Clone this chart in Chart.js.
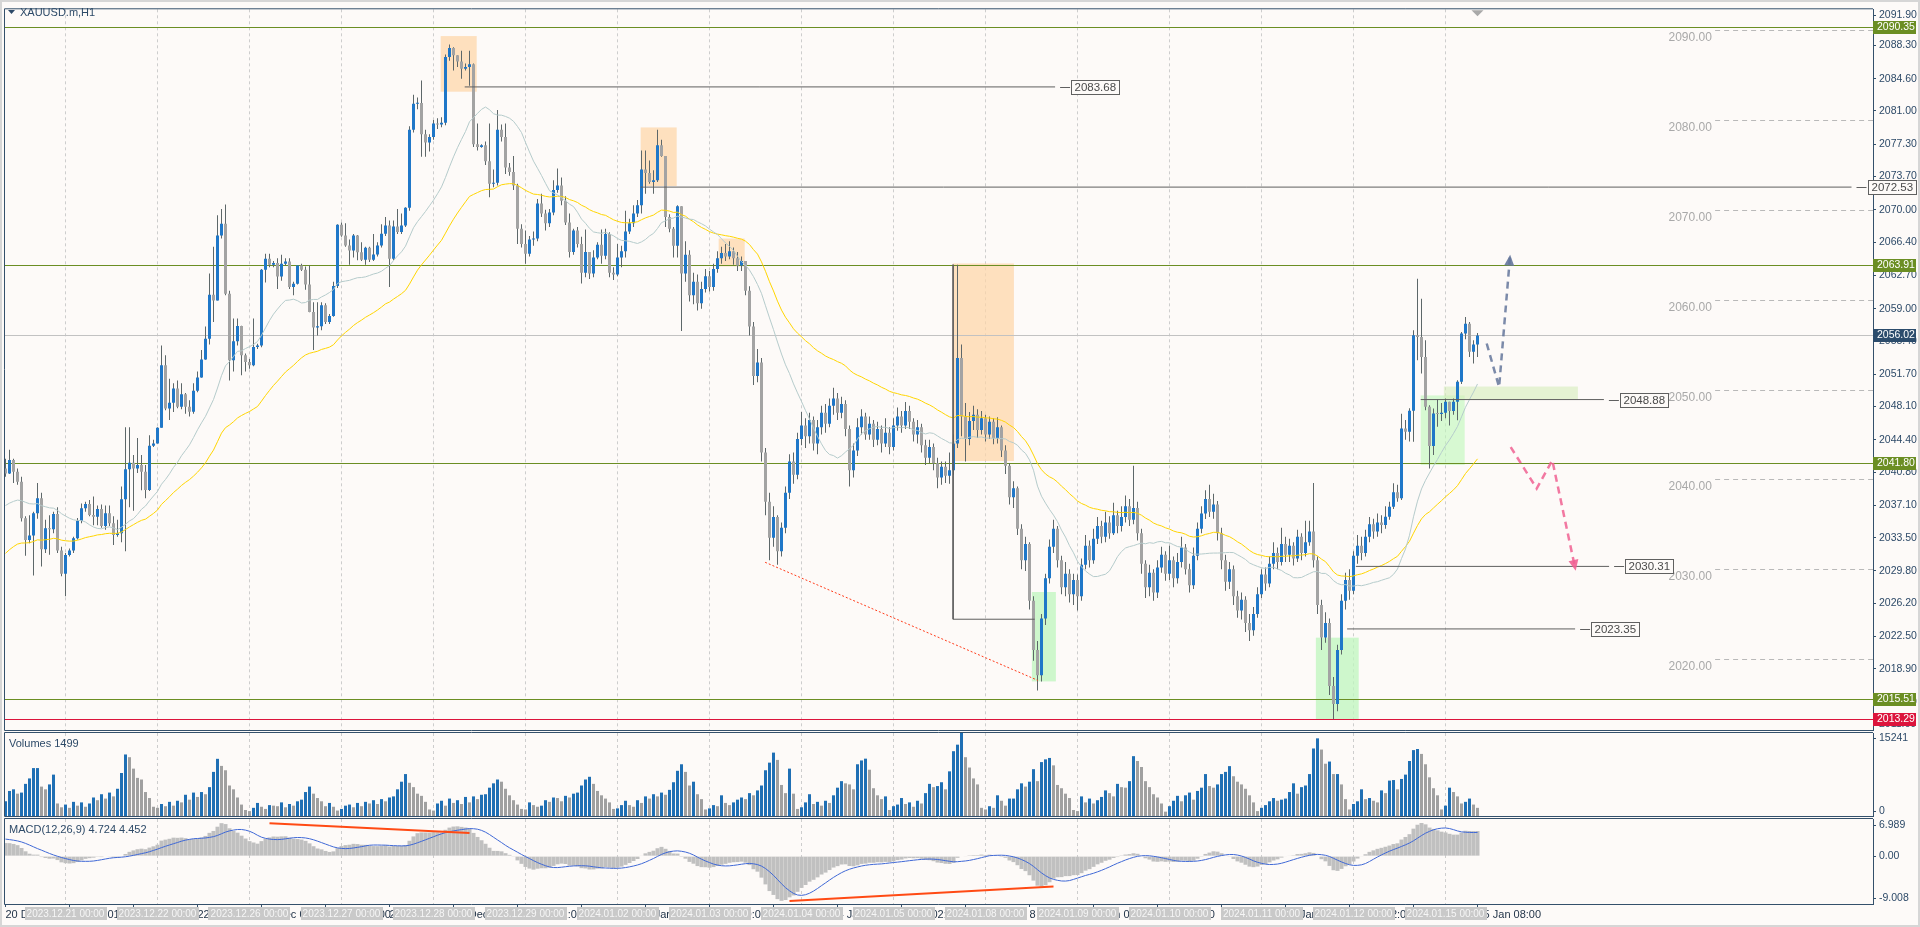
<!DOCTYPE html>
<html>
<head>
<meta charset="utf-8">
<title>XAUUSD.m,H1</title>
<script src="https://cdn.jsdelivr.net/npm/chart.js@4.4.1/dist/chart.umd.min.js"></script>
<style>
  html, body { margin: 0; padding: 0; background: #fdfaf8; overflow: hidden; }
  #wrap { position: relative; width: 1920px; height: 927px; }
  #wrap canvas { position: absolute; left: 0; top: 0; }
  #edge { position: absolute; left: 0; top: 0; width: 1916px; height: 923px; border: 2px solid #d6d6d6; pointer-events: none; }
</style>
</head>
<body>
<div id="wrap">
  <canvas id="priceChart" width="1920" height="927"></canvas>
  <canvas id="volChart" width="1920" height="927"></canvas>
  <canvas id="macdChart" width="1920" height="927"></canvas>
  <div id="edge"></div>
</div>
<script>
// ---- data ----
const firstOpen = 2041.22;

// hourly closes, one row per session (Dec 20 partial ... Jan 15 partial)
const closes = [
  2040.66, 2042.15, 2040.85, 2039.74, 2035.66, 2033.26, 2033.74, 2036.22, 2037.89, 2032.22, 2034.55, 2034.44, 2036.15, 2032.07, 2029.48,
  2031.59, 2032.07, 2033.44, 2035.37, 2036.78, 2037.26, 2036.03, 2035.85, 2036.70, 2034.81, 2036.22, 2035.11, 2033.81, 2034.00, 2037.78, 2041.11, 2041.85, 2041.22, 2041.59, 2040.85, 2038.81, 2043.74, 2044.00,
  2045.74, 2052.70, 2047.89, 2048.52, 2050.11, 2048.07, 2049.48, 2048.07, 2047.52, 2049.85, 2051.33, 2053.33, 2055.66, 2060.55, 2059.92, 2067.15, 2068.44, 2060.66, 2053.26, 2055.37, 2057.07, 2053.81, 2053.07,
  2052.70, 2054.74, 2054.89, 2063.33, 2064.55, 2063.89, 2064.07, 2062.59, 2064.00, 2064.26, 2061.41, 2061.78, 2063.81, 2063.33, 2061.70, 2058.63, 2056.89, 2057.03, 2059.37, 2057.52, 2058.18, 2061.52, 2068.33,
  2067.15, 2066.03, 2065.48, 2067.15, 2065.29, 2064.44, 2065.78, 2064.44, 2065.03, 2066.03, 2067.33, 2068.26, 2064.55, 2068.15, 2067.52, 2068.26, 2070.22, 2078.90, 2081.80, 2081.90, 2078.40, 2077.50, 2078.10,
  2079.60, 2079.50, 2079.70, 2087.00, 2088.00, 2087.20, 2086.50, 2085.70, 2085.90, 2086.20, 2077.30, 2077.00, 2077.20, 2075.40, 2072.90, 2073.00, 2078.90, 2078.10, 2074.70, 2074.20, 2072.70, 2067.90, 2066.20,
  2065.10, 2066.70, 2066.80, 2070.70, 2069.60, 2068.50, 2069.70, 2072.20, 2072.70, 2071.00, 2068.60, 2065.30, 2067.70, 2066.20, 2063.00, 2065.30, 2062.90, 2064.70, 2066.10, 2064.90, 2067.30, 2063.00, 2062.80,
  2064.70, 2065.40, 2067.60, 2068.50, 2069.60, 2070.50, 2074.50, 2074.10, 2073.10, 2073.30, 2077.20, 2076.00, 2069.20, 2067.90, 2066.00, 2070.40, 2062.90, 2065.00, 2060.50, 2062.00, 2059.60, 2061.20, 2062.60,
  2061.40, 2063.40, 2064.60, 2065.20, 2064.80, 2065.40, 2064.60, 2063.80, 2064.30, 2061.00, 2057.00, 2051.50, 2053.00, 2043.00, 2037.50, 2033.50, 2035.80, 2032.00, 2034.60, 2038.50, 2042.00, 2040.50, 2044.50,
  2046.00, 2044.80, 2046.60, 2044.00, 2045.80, 2047.40, 2046.20, 2048.20, 2049.00, 2047.40, 2048.40, 2045.60, 2041.00, 2043.20, 2045.80, 2047.00, 2045.00, 2046.20, 2044.40, 2045.60, 2044.00, 2045.20, 2043.60,
  2046.00, 2047.00, 2046.00, 2047.60, 2046.40, 2045.00, 2045.80, 2043.80, 2042.40, 2043.60, 2041.80, 2040.20, 2041.40, 2040.40, 2041.00, 2044.00, 2053.50, 2047.00, 2044.50, 2046.50, 2047.20, 2045.50, 2046.80,
  2045.00, 2046.40, 2044.60, 2045.80, 2043.20, 2041.50, 2038.00, 2039.00, 2034.50, 2031.00, 2032.80, 2026.50, 2021.00, 2018.20, 2024.50, 2029.00, 2032.50, 2034.50, 2031.00, 2028.00, 2029.50, 2027.20, 2028.80,
  2027.00, 2030.50, 2032.60, 2031.00, 2033.40, 2034.80, 2033.60, 2035.20, 2034.00, 2036.00, 2034.80, 2035.80, 2037.00, 2035.50, 2036.80, 2034.00, 2030.60, 2028.00, 2029.60, 2027.40, 2030.20, 2031.60, 2029.50,
  2031.00, 2029.00, 2030.80, 2032.40, 2030.00, 2028.20, 2031.50, 2034.50, 2036.20, 2037.80, 2036.40, 2037.20, 2034.00, 2031.00, 2028.60, 2030.00, 2027.00, 2025.40, 2026.60, 2024.00, 2023.20, 2025.00, 2027.20,
  2029.40, 2028.40, 2030.60, 2031.80, 2030.80, 2032.80, 2031.60, 2032.60, 2031.20, 2033.60, 2031.80, 2033.00, 2034.20, 2031.00, 2026.00, 2022.40, 2024.00, 2017.00, 2015.00, 2021.00, 2026.50, 2028.80, 2027.60,
  2031.50, 2032.60, 2031.80, 2033.60, 2035.00, 2034.20, 2035.20, 2034.93, 2035.85, 2036.96, 2038.56, 2037.89, 2045.67, 2045.30, 2047.63, 2056.04, 2055.85, 2053.63, 2048.08, 2043.70, 2047.33, 2047.26, 2047.40,
  2048.63, 2047.60, 2048.63, 2050.85, 2056.22, 2057.33, 2054.19, 2055.00, 2056.02
];

const highs = [
  2042.3, 2043.3, 2042.3, 2041.2, 2040.3, 2035.9, 2036.0, 2036.4, 2039.6, 2038.5, 2035.5, 2036.0, 2036.4, 2036.9, 2032.5,
  2031.8, 2032.3, 2033.6, 2035.7, 2037.3, 2037.5, 2037.7, 2038.1, 2037.1, 2037.2, 2037.1, 2037.1, 2035.9, 2035.5, 2039.2, 2045.8, 2045.8, 2042.7, 2044.6, 2042.7, 2041.6, 2044.9, 2044.4,
  2045.8, 2054.9, 2053.8, 2051.2, 2050.7, 2051.0, 2050.7, 2049.6, 2048.8, 2050.7, 2052.0, 2054.4, 2057.0, 2062.9, 2065.9, 2069.4, 2070.1, 2070.6, 2061.0, 2057.9, 2057.9, 2057.1, 2054.0,
  2053.4, 2057.9, 2055.1, 2063.4, 2065.1, 2065.1, 2064.3, 2064.6, 2065.0, 2064.6, 2064.6, 2062.0, 2063.8, 2064.0, 2063.7, 2063.8, 2059.7, 2059.7, 2059.7, 2059.6, 2058.4, 2062.0, 2068.4,
  2068.6, 2068.5, 2066.7, 2067.3, 2067.2, 2066.4, 2065.9, 2065.9, 2067.3, 2066.4, 2068.4, 2069.2, 2068.8, 2068.8, 2070.1, 2069.6, 2070.3, 2079.3, 2082.8, 2082.5, 2084.4, 2078.9, 2078.4,
  2080.0, 2080.2, 2080.3, 2087.3, 2088.4, 2088.1, 2087.2, 2087.7, 2086.3, 2087.7, 2086.3, 2079.6, 2077.3, 2077.6, 2079.6, 2074.5, 2081.1, 2079.5, 2079.6, 2075.2, 2076.0, 2072.9, 2068.4,
  2067.7, 2067.1, 2067.6, 2071.2, 2071.8, 2070.0, 2070.1, 2073.3, 2074.6, 2073.6, 2071.5, 2069.6, 2067.9, 2068.1, 2067.0, 2067.8, 2065.1, 2065.5, 2066.4, 2067.8, 2067.9, 2067.5, 2063.6,
  2066.2, 2066.0, 2069.9, 2069.0, 2070.5, 2071.1, 2076.6, 2076.6, 2075.5, 2074.4, 2078.9, 2077.8, 2076.0, 2069.5, 2068.1, 2070.5, 2070.4, 2066.5, 2065.5, 2063.0, 2062.8, 2062.0, 2063.4,
  2063.2, 2064.0, 2065.4, 2065.9, 2066.2, 2066.5, 2065.8, 2065.3, 2064.8, 2064.3, 2061.5, 2057.5, 2054.5, 2053.5, 2043.5, 2038.5, 2037.0, 2036.0, 2035.2, 2039.2, 2042.8, 2043.0, 2045.2,
  2047.5, 2046.8, 2047.4, 2047.0, 2046.6, 2048.2, 2048.4, 2049.0, 2050.2, 2049.6, 2049.2, 2048.8, 2046.0, 2044.0, 2046.8, 2047.8, 2047.4, 2047.0, 2046.6, 2046.4, 2046.0, 2046.8, 2045.8,
  2046.8, 2048.0, 2047.6, 2048.6, 2048.2, 2046.8, 2046.6, 2046.2, 2044.4, 2044.4, 2044.0, 2042.4, 2042.0, 2042.0, 2043.0, 2045.0, 2063.9, 2055.0, 2048.5, 2047.5, 2048.2, 2047.8, 2047.6,
  2047.2, 2047.0, 2046.8, 2046.9, 2046.0, 2043.8, 2041.8, 2039.8, 2039.2, 2035.0, 2033.6, 2033.0, 2027.0, 2022.0, 2025.0, 2029.5, 2033.3, 2035.5, 2034.8, 2031.5, 2030.8, 2030.0, 2029.5,
  2029.4, 2031.2, 2033.8, 2033.2, 2034.5, 2035.8, 2035.4, 2036.4, 2035.9, 2037.4, 2036.5, 2037.0, 2038.2, 2037.8, 2041.5, 2037.5, 2034.5, 2031.0, 2030.5, 2030.0, 2031.0, 2032.5, 2032.0,
  2032.6, 2031.4, 2031.8, 2033.6, 2032.8, 2030.6, 2032.4, 2035.2, 2037.0, 2038.8, 2039.4, 2038.4, 2037.6, 2034.6, 2031.6, 2030.8, 2030.4, 2027.6, 2027.4, 2027.0, 2025.0, 2025.8, 2028.0,
  2030.0, 2030.2, 2031.4, 2033.0, 2032.4, 2034.6, 2033.6, 2033.4, 2033.0, 2034.4, 2034.0, 2035.4, 2035.4, 2039.6, 2031.4, 2026.6, 2025.2, 2024.5, 2018.0, 2021.6, 2027.2, 2029.6, 2030.0,
  2032.0, 2033.8, 2033.6, 2034.4, 2035.8, 2035.6, 2036.2, 2036.0, 2037.0, 2037.5, 2039.56, 2039.4, 2047.3, 2046.6, 2047.9, 2056.59, 2062.33, 2060.11, 2055.48, 2048.26, 2047.89, 2048.89, 2048.5,
  2049.0, 2048.26, 2049.0, 2051.04, 2056.4, 2058.07, 2057.52, 2055.48, 2056.3
];

const lows = [
  2040.3, 2040.6, 2039.6, 2039.4, 2035.3, 2031.5, 2032.9, 2029.3, 2035.6, 2030.3, 2031.8, 2031.6, 2034.0, 2031.8, 2029.2,
  2027.0, 2031.4, 2031.8, 2033.3, 2035.1, 2036.4, 2035.9, 2034.9, 2034.9, 2034.6, 2034.4, 2034.8, 2032.7, 2033.6, 2033.0, 2032.0, 2036.9, 2036.5, 2040.7, 2038.8, 2037.9, 2038.7, 2043.6,
  2044.0, 2046.4, 2047.7, 2046.6, 2047.5, 2047.9, 2047.8, 2047.3, 2047.0, 2047.3, 2049.7, 2051.3, 2053.3, 2055.0, 2057.5, 2059.9, 2066.8, 2060.5, 2051.0, 2052.0, 2054.9, 2051.6, 2052.0,
  2052.3, 2052.6, 2054.5, 2054.7, 2061.9, 2063.6, 2063.6, 2061.2, 2062.1, 2063.8, 2061.2, 2060.5, 2061.7, 2063.2, 2061.1, 2058.6, 2054.4, 2056.0, 2056.6, 2057.3, 2057.3, 2058.1, 2061.3,
  2067.0, 2065.9, 2063.9, 2064.7, 2064.4, 2064.3, 2063.9, 2064.2, 2064.3, 2064.8, 2065.8, 2067.1, 2061.4, 2064.4, 2067.3, 2067.3, 2068.1, 2069.9, 2078.6, 2081.2, 2075.9, 2075.9, 2076.5,
  2077.8, 2079.0, 2079.2, 2079.4, 2086.6, 2085.5, 2085.9, 2084.6, 2085.5, 2083.8, 2077.0, 2076.6, 2076.9, 2075.0, 2071.4, 2072.5, 2072.7, 2077.6, 2074.0, 2073.8, 2072.2, 2066.2, 2065.8,
  2064.0, 2064.8, 2066.0, 2066.5, 2069.2, 2067.7, 2068.1, 2069.4, 2071.9, 2070.5, 2068.3, 2064.7, 2065.0, 2065.8, 2061.8, 2062.5, 2062.3, 2062.5, 2064.5, 2064.0, 2064.5, 2062.5, 2062.2,
  2062.6, 2063.6, 2064.7, 2067.3, 2068.1, 2069.2, 2069.6, 2071.8, 2072.9, 2071.8, 2073.1, 2075.9, 2068.1, 2067.5, 2064.7, 2064.7, 2056.5, 2062.0, 2059.8, 2059.5, 2058.8, 2059.0, 2060.8,
  2060.9, 2061.0, 2063.0, 2064.0, 2064.3, 2064.5, 2063.9, 2063.2, 2063.2, 2060.5, 2056.0, 2050.5, 2050.8, 2042.0, 2036.0, 2031.0, 2032.5, 2030.5, 2031.4, 2034.0, 2037.8, 2039.5, 2040.0,
  2043.8, 2043.5, 2044.0, 2043.2, 2042.8, 2045.0, 2045.2, 2045.8, 2047.2, 2046.6, 2046.8, 2044.8, 2039.2, 2040.2, 2042.6, 2045.0, 2044.4, 2044.4, 2043.6, 2043.8, 2043.0, 2043.6, 2042.8,
  2043.2, 2045.4, 2045.2, 2045.6, 2045.6, 2044.2, 2044.0, 2043.0, 2041.6, 2041.8, 2041.0, 2039.0, 2039.4, 2039.6, 2039.5, 2040.5, 2043.5, 2044.8, 2042.0, 2043.8, 2045.5, 2044.6, 2045.0,
  2044.2, 2044.5, 2043.9, 2044.0, 2042.5, 2040.6, 2037.2, 2036.8, 2033.8, 2030.0, 2029.8, 2025.5, 2019.8, 2016.5, 2017.5, 2023.8, 2028.4, 2031.8, 2030.2, 2027.2, 2027.0, 2026.3, 2026.0,
  2025.4, 2026.5, 2030.0, 2030.2, 2030.6, 2032.8, 2032.9, 2033.0, 2033.4, 2033.8, 2034.0, 2034.2, 2035.2, 2034.8, 2035.0, 2033.2, 2029.5, 2026.8, 2027.0, 2026.5, 2026.8, 2029.6, 2028.7,
  2028.8, 2028.0, 2028.4, 2030.2, 2029.4, 2027.4, 2027.8, 2031.0, 2034.0, 2035.6, 2035.8, 2035.6, 2033.2, 2030.0, 2027.6, 2027.8, 2026.0, 2024.6, 2024.4, 2023.0, 2022.0, 2022.6, 2024.6,
  2026.8, 2027.6, 2028.0, 2030.0, 2030.0, 2030.4, 2030.8, 2030.8, 2030.4, 2030.8, 2031.0, 2031.4, 2032.6, 2030.2, 2025.0, 2021.0, 2021.8, 2016.0, 2013.3, 2014.2, 2020.5, 2025.5, 2026.6,
  2027.2, 2030.6, 2031.0, 2031.4, 2033.0, 2033.4, 2033.6, 2034.0, 2034.5, 2035.5, 2036.7, 2037.5, 2037.7, 2044.4, 2044.2, 2044.19, 2053.26, 2051.78, 2047.7, 2041.22, 2042.7, 2045.85, 2046.5,
  2046.8, 2046.0, 2047.2, 2046.59, 2050.6, 2055.6, 2053.63, 2052.9, 2053.63
];

const volumes = [
  2700, 4600, 4900, 4100, 4300, 5900, 6900, 8800, 8800, 5400, 4900, 5800, 7600, 2300, 1600,
  2100, 1500, 2600, 1900, 2500, 1700, 2300, 3400, 2900, 4000, 3200, 4300, 3600, 5000, 7900, 11300, 10800, 8700, 7000, 6700, 4400, 3300, 1700,
  1500, 2200, 1800, 2600, 1900, 2800, 2500, 3900, 3000, 4300, 3500, 4400, 4000, 5300, 8100, 10500, 9200, 8400, 5600, 4900, 3400, 2100, 1100,
  900, 1500, 2400, 1700, 1300, 2000, 1900, 1800, 2500, 1600, 2200, 1900, 2700, 3000, 4400, 5400, 4100, 3300, 2700, 1800, 2400, 1700, 1000,
  1300, 1900, 2100, 1600, 2400, 1800, 2600, 2300, 2900, 2200, 3100, 2700, 3400, 3600, 4900, 6300, 7700, 6100, 5300, 4100, 3700, 2600, 1200,
  1000, 2300, 2800, 1900, 3200, 2400, 2900, 2200, 3500, 2500, 3600, 3100, 3900, 4000, 5200, 6000, 6700, 6300, 5000, 3800, 2900, 2100, 1300,
  1200, 2500, 2000, 1700, 1900, 2900, 2600, 3400, 3300, 2700, 3700, 3400, 4100, 4300, 5600, 6700, 7200, 5900, 4600, 3800, 3200, 2500, 1300,
  1400, 2000, 2800, 2000, 1700, 2900, 2400, 3600, 3200, 4000, 3600, 4300, 3900, 4800, 6200, 8300, 9500, 8100, 5600, 6300, 4000, 3100, 1200,
  1400, 2000, 1800, 3800, 2400, 2000, 2500, 3000, 3400, 3100, 4200, 3800, 4700, 5600, 8400, 9800, 11640, 10300, 5700, 4200, 8700, 4100, 1300,
  1600, 2500, 4000, 2200, 2600, 1900, 2800, 2400, 3800, 5200, 6400, 6000, 5800, 4900, 9500, 10200, 10530, 8500, 5100, 3800, 3100, 3600, 1100,
  1800, 2100, 3300, 2200, 2500, 1700, 2800, 2300, 4200, 5900, 5300, 5500, 6200, 4900, 8200, 11900, 13100, 15241, 10800, 8900, 6900, 5800, 1500,
  1200, 1800, 1500, 3800, 2800, 1900, 3200, 3200, 4900, 6000, 5400, 6300, 8600, 6400, 9900, 10400, 10660, 9300, 5700, 5100, 4100, 3300, 1100,
  900, 3600, 2500, 3200, 2300, 2900, 3500, 4700, 4200, 3600, 5900, 5300, 5200, 6400, 10990, 10100, 9000, 6400, 5300, 4000, 3400, 2300, 800,
  1800, 2800, 3700, 2700, 3800, 4300, 3000, 4600, 5200, 7700, 5500, 5200, 5800, 7700, 8100, 9160, 7300, 6300, 5800, 5000, 3800, 2500, 900,
  1500, 2000, 2700, 3300, 2800, 3000, 3200, 4400, 6000, 4100, 5300, 5600, 7700, 12400, 14260, 12200, 9600, 10000, 7700, 7700, 5800, 3100, 1200,
  2200, 2700, 4900, 3100, 3300, 2800, 2500, 4700, 4200, 6500, 6600, 4900, 6800, 7600, 10100, 12100, 12300, 11400, 9500, 7100, 5100, 3800, 1200,
  1900, 5200, 4400, 3600, 2300, 2600, 3200, 2100, 1499
];

// first bar (00:00) of every session, and its label on the time axis
const sessionStarts = [15, 38, 61, 84, 107, 130, 153, 176, 199, 222, 245, 268, 291, 314, 337, 360];
const sessionLabels = [
  '2023.12.21 00:00', '2023.12.22 00:00', '2023.12.26 00:00', '2023.12.27 00:00', '2023.12.28 00:00', '2023.12.29 00:00',
  '2024.01.02 00:00', '2024.01.03 00:00', '2024.01.04 00:00', '2024.01.05 00:00', '2024.01.08 00:00', '2024.01.09 00:00',
  '2024.01.10 00:00', '2024.01.11 00:00', '2024.01.12 00:00', '2024.01.15 00:00'
];
const timeTickBars = [0, 16, 32, 48, 64, 80, 96, 112, 128, 144, 160, 176, 192, 208, 224, 240, 256, 272, 288, 304, 320, 336, 352, 368];
const timeTickLabels = [
  '20 Dec 2023', '21 Dec 01:00', '21 Dec 17:00', '22 Dec 10:00', '26 Dec 03:00', '26 Dec 19:00', '27 Dec 12:00', '28 Dec 05:00',
  '28 Dec 21:00', '29 Dec 14:00', '2 Jan 07:00', '3 Jan 00:00', '3 Jan 16:00', '4 Jan 09:00', '5 Jan 02:00', '5 Jan 18:00',
  '8 Jan 11:00', '9 Jan 04:00', '9 Jan 20:00', '10 Jan 13:00', '11 Jan 06:00', '11 Jan 22:00', '12 Jan 15:00', '15 Jan 08:00'
];

const priceTicks = [2091.90, 2088.30, 2084.60, 2081.00, 2077.30, 2073.70, 2070.00, 2066.40, 2062.70, 2059.00, 2055.40, 2051.70,
  2048.10, 2044.40, 2040.80, 2037.10, 2033.50, 2029.80, 2026.20, 2022.50, 2018.90, 2015.20, 2011.60];
const volumeTicks = [15241, 0];
const macdTicks = [6.989, 0, -9.008];
const priceRange = [2012.10, 2092.32];
const macdRange = [-9.008, 6.989];

const greenLevels = [2090.35, 2063.91, 2041.80, 2015.51];
const redLevel = 2013.29;
const bidPrice = 2056.02;
const roundLevels = [2090, 2080, 2070, 2060, 2050, 2040, 2030, 2020];

// drawn objects (bar index / price)
const trendLines = [
  { price: 2083.68, from: 114.8, to: 262.4 },
  { price: 2072.53, from: 158.8, to: 461.5 },
  { price: 2048.88, from: 353.8, to: 399.6 },
  { price: 2030.31, from: 337.6, to: 400.9 },
  { price: 2023.35, from: 335.4, to: 392.4 }
];
const zones = [
  { from: 108.8, to: 117.8, top: 2089.34, bottom: 2083.15, color: 'rgba(253,214,168,0.72)' },
  { from: 158.8, to: 167.8, top: 2079.17, bottom: 2072.65, color: 'rgba(253,214,168,0.72)' },
  { from: 178.3, to: 184.8, top: 2066.80, bottom: 2063.70, color: 'rgba(253,214,168,0.72)' },
  { from: 236.8, to: 252.1, top: 2064.03, bottom: 2042.04, color: 'rgba(253,214,168,0.72)' },
  { from: 256.6, to: 262.6, top: 2027.46, bottom: 2017.51, color: 'rgba(190,245,190,0.75)' },
  { from: 327.6, to: 338.3, top: 2022.38, bottom: 2013.31, color: 'rgba(190,245,190,0.75)' },
  { from: 353.8, to: 364.8, top: 2049.34, bottom: 2041.60, color: 'rgba(190,248,185,0.6)' },
  { from: 359.6, to: 393.1, top: 2050.33, bottom: 2048.90, color: 'rgba(214,236,186,0.6)' }
];
const upArrow = { bars: [370.3, 373.4, 376.1], prices: [2055.12, 2050.28, 2064.67] };
const downArrow = { bars: [376.3, 382.8, 386.7, 392.4], prices: [2043.59, 2038.98, 2042.12, 2030.14] };
const priceDivergence = { bars: [189.9, 258.1], prices: [2030.77, 2017.62] };
const rangeMarker = { bars: [236.9, 236.9, 257.3], prices: [2063.9, 2024.43, 2024.43] };
const macdDivergences = [
  { bars: [66, 116], values: [6.2, 4.35] },
  { bars: [196, 262], values: [-8.45, -5.7] }
];

// ---- layout ----
const W = 1920, H = 927;
const AXIS_W = 47, PLOT_LEFT = 5, BAR_STEP = 4;
const PRICE_TOP = 4, PRICE_BOTTOM = 730;
const VOL_TOP = 733, VOL_BOTTOM = 816;
const MACD_TOP = 819, MACD_BOTTOM = 904;
const xMin = -0.125;
const xMax = xMin + (W - AXIS_W - PLOT_LEFT) / BAR_STEP;

const FONT = '"Liberation Sans", Arial, sans-serif';
const FRAME = '#34506b';
const AXIS_TEXT = '#2d4a68';
const GRID = '#cdcdcd';
const BULL = '#1f77c8', BEAR = '#a3a3a3', WICK = '#5d6769';

// ---- derived series ----
const bars = closes.map((_, i) => i);
const opens = closes.map((c, i) => (i === 0 ? firstOpen : closes[i - 1]));

function sma(vals, period, seed) {
  return vals.map((v, i) => {
    let s = 0;
    for (let k = i - period + 1; k <= i; k++) s += k >= 0 ? vals[k] : seed;
    return s / period;
  });
}
function ema(vals, period, seed) {
  const a = 2 / (period + 1);
  let e = seed;
  return vals.map(v => (e += a * (v - e)));
}
const fastMa = sma(closes, 20, 2036.9);
const slowMa = ema(closes, 50, 2031.4);
const ema12 = ema(closes, 12, 2040.0);
const ema26 = ema(closes, 26, 2037.4);
const macdMain = ema12.map((v, i) => v - ema26[i]);
const macdSignal = sma(macdMain, 9, 3.3);

function pts(xs, ys) { return xs.map((x, i) => ({ x: x, y: ys[i] })); }

// ticks that fall on the panel edge are nudged inside, like the terminal does
function edgeTicks(values, min, max, heightPx, insetPx) {
  const inset = insetPx * (max - min) / heightPx;
  return values.map(v => ({ value: Math.min(Math.max(v, min + inset), max - inset) }));
}

function dayGrid() {
  return {
    type: 'linear', min: xMin, max: xMax, offset: false,
    afterBuildTicks: s => { s.ticks = sessionStarts.map(v => ({ value: v })); },
    afterFit: s => { s.height = 0; },
    ticks: { display: false },
    grid: { color: GRID, drawTicks: false, lineWidth: 1, offset: false },
    border: { display: false, dash: [3, 3] }
  };
}
function rightAxis(min, max, tickValues, labels, heightPx, insetPx) {
  return {
    type: 'linear', position: 'right', min: min, max: max,
    afterBuildTicks: s => { s.ticks = edgeTicks(tickValues, min, max, heightPx, insetPx); },
    afterFit: s => { s.width = AXIS_W; },
    ticks: { callback: (v, i) => labels[i], color: AXIS_TEXT, font: { family: FONT, size: 10.5 }, padding: 3, autoSkip: false },
    grid: { drawOnChartArea: false, drawTicks: true, tickLength: 3, color: FRAME },
    border: { display: true, color: FRAME }
  };
}
function baseOptions(top, bottom) {
  return {
    responsive: false, animation: false, events: [],
    layout: { padding: { left: PLOT_LEFT, top: top, right: 0, bottom: bottom }, autoPadding: false },
    plugins: { legend: { display: false }, tooltip: { enabled: false } }
  };
}

const framePlugin = {
  id: 'frame',
  afterDraw(chart) {
    const { ctx, chartArea: a } = chart;
    ctx.save();
    ctx.strokeStyle = FRAME;
    ctx.lineWidth = 1;
    ctx.beginPath();
    ctx.moveTo(a.right, a.top - 0.5);
    ctx.lineTo(a.left - 0.5, a.top - 0.5);
    ctx.lineTo(a.left - 0.5, a.bottom + 0.5);
    ctx.lineTo(a.right, a.bottom + 0.5);
    ctx.stroke();
    ctx.restore();
  }
};

function axisTag(ctx, yPix, text, bg) {
  ctx.fillStyle = bg;
  ctx.fillRect(W - AXIS_W, Math.round(yPix) - 6, 43, 13);
  ctx.fillStyle = '#ffffff';
  ctx.font = '10.5px ' + FONT;
  ctx.textAlign = 'left';
  ctx.textBaseline = 'middle';
  ctx.fillText(text, W - AXIS_W + 4, Math.round(yPix) + 0.5);
}

const priceDecor = {
  id: 'priceDecor',
  beforeDatasetsDraw(chart) {
    const { ctx, chartArea: a, scales: { x, y } } = chart;
    ctx.save();
    ctx.beginPath();
    ctx.rect(a.left, a.top, a.right - a.left, a.bottom - a.top);
    ctx.clip();
    zones.forEach(z => {
      const x0 = x.getPixelForValue(z.from), x1 = x.getPixelForValue(z.to);
      const y0 = y.getPixelForValue(z.top), y1 = y.getPixelForValue(z.bottom);
      ctx.fillStyle = z.color;
      ctx.fillRect(x0, y0, x1 - x0, y1 - y0);
    });
    // round price levels with their captions
    ctx.strokeStyle = '#b9b9b9';
    ctx.setLineDash([5, 4]);
    ctx.fillStyle = '#a9a9a9';
    ctx.font = '12px ' + FONT;
    ctx.textAlign = 'right';
    ctx.textBaseline = 'middle';
    roundLevels.forEach(v => {
      const py = Math.round(y.getPixelForValue(v)) + 0.5;
      ctx.beginPath();
      ctx.moveTo(x.getPixelForValue(427.4), py);
      ctx.lineTo(a.right, py);
      ctx.stroke();
      ctx.fillText(v.toFixed(2), x.getPixelForValue(426.6), py + 7);
    });
    ctx.setLineDash([]);
    const hline = (v, color) => {
      const py = Math.round(y.getPixelForValue(v)) + 0.5;
      ctx.strokeStyle = color;
      ctx.beginPath();
      ctx.moveTo(a.left, py);
      ctx.lineTo(a.right, py);
      ctx.stroke();
    };
    hline(bidPrice, '#c2c2c2');
    greenLevels.forEach(v => hline(v, '#6b8e23'));
    hline(redLevel, '#dc143c');
    ctx.restore();
  },
  afterDatasetsDraw(chart) {
    const { ctx, scales: { x, y } } = chart;
    const head = (arrow, color) => {
      const n = arrow.bars.length;
      const x1 = x.getPixelForValue(arrow.bars[n - 1]), y1 = y.getPixelForValue(arrow.prices[n - 1]);
      const x0 = x.getPixelForValue(arrow.bars[n - 2]), y0 = y.getPixelForValue(arrow.prices[n - 2]);
      const ang = Math.atan2(y1 - y0, x1 - x0);
      ctx.save();
      ctx.translate(x1, y1);
      ctx.rotate(ang);
      ctx.fillStyle = color;
      ctx.beginPath();
      ctx.moveTo(3, 0);
      ctx.lineTo(-8, -5);
      ctx.lineTo(-8, 5);
      ctx.closePath();
      ctx.fill();
      ctx.restore();
    };
    head(upArrow, 'rgba(100,118,155,0.9)');
    head(downArrow, 'rgba(240,96,146,0.9)');
  },
  afterDraw(chart) {
    const { ctx, chartArea: a, scales: { x, y } } = chart;
    ctx.save();
    // labels at the end of the drawn lines
    ctx.font = '11.5px ' + FONT;
    ctx.textBaseline = 'middle';
    ctx.textAlign = 'left';
    trendLines.forEach(t => {
      const xe = x.getPixelForValue(t.to);
      const py = Math.round(y.getPixelForValue(t.price)) + 0.5;
      ctx.strokeStyle = '#606060';
      ctx.lineWidth = 1;
      ctx.beginPath();
      ctx.moveTo(xe + 5, py);
      ctx.lineTo(xe + 15, py);
      ctx.stroke();
      const txt = t.price.toFixed(2);
      const w = Math.ceil(ctx.measureText(txt).width) + 6;
      const bx = Math.round(xe + 16) + 0.5;
      ctx.fillStyle = '#fdfaf8';
      ctx.fillRect(bx, py - 7, w, 14);
      ctx.strokeRect(bx, py - 7, w, 14);
      ctx.fillStyle = '#4a4a4a';
      ctx.fillText(txt, bx + 3, py + 0.5);
    });
    // price tags on the axis
    axisTag(ctx, y.getPixelForValue(greenLevels[0]), greenLevels[0].toFixed(2), '#6b8e23');
    axisTag(ctx, y.getPixelForValue(greenLevels[1]), greenLevels[1].toFixed(2), '#6b8e23');
    axisTag(ctx, y.getPixelForValue(bidPrice), bidPrice.toFixed(2), '#2c4c6c');
    axisTag(ctx, y.getPixelForValue(greenLevels[2]), greenLevels[2].toFixed(2), '#6b8e23');
    axisTag(ctx, y.getPixelForValue(greenLevels[3]), greenLevels[3].toFixed(2), '#6b8e23');
    axisTag(ctx, y.getPixelForValue(redLevel), redLevel.toFixed(2), '#dc143c');
    // symbol caption
    ctx.fillStyle = AXIS_TEXT;
    ctx.beginPath();
    ctx.moveTo(8, 10);
    ctx.lineTo(15, 10);
    ctx.lineTo(11.5, 14);
    ctx.closePath();
    ctx.fill();
    ctx.font = '11px ' + FONT;
    ctx.textAlign = 'left';
    ctx.textBaseline = 'middle';
    ctx.fillText('XAUUSD.m,H1', 20, 12.5);
    // chart shift marker above the last bar
    const mx = x.getPixelForValue(bars[bars.length - 1]);
    ctx.fillStyle = '#a9a9a9';
    ctx.beginPath();
    ctx.moveTo(mx - 6, a.top + 1);
    ctx.lineTo(mx + 6, a.top + 1);
    ctx.lineTo(mx, a.top + 7);
    ctx.closePath();
    ctx.fill();
    ctx.restore();
  }
};

function lineSet(data, color, width, dash, order) {
  return {
    type: 'line', data: data, borderColor: color, borderWidth: width, borderDash: dash || [],
    pointRadius: 0, fill: false, tension: 0, order: order
  };
}

const priceDatasets = [
  {
    type: 'bar', order: 3,
    data: bars.map(i => ({ x: i, y: [Math.min(lows[i], opens[i], closes[i]), Math.max(highs[i], opens[i], closes[i])] })),
    backgroundColor: WICK, barThickness: 1, maxBarThickness: 1, grouped: false, borderWidth: 0, inflateAmount: 0
  },
  {
    type: 'bar', order: 2,
    data: bars.map(i => ({ x: i, y: [opens[i], closes[i]] })),
    backgroundColor: bars.map(i => (closes[i] >= opens[i] ? BULL : BEAR)),
    barThickness: 3, maxBarThickness: 3, minBarLength: 1, grouped: false, borderWidth: 0, inflateAmount: 0
  },
  lineSet(pts(bars, fastMa), '#b5cbcb', 1, null, 1),
  lineSet(pts(bars, slowMa), '#ffd500', 1, null, 1),
  lineSet(pts(upArrow.bars, upArrow.prices), 'rgba(100,118,155,0.85)', 2.5, [7, 5], 0),
  lineSet(pts(downArrow.bars, downArrow.prices), 'rgba(240,96,146,0.85)', 2.5, [7, 5], 0),
  lineSet(pts(priceDivergence.bars, priceDivergence.prices), '#ff3b1a', 1, [2, 2], 0),
  lineSet(pts(rangeMarker.bars, rangeMarker.prices), '#5e5e5e', 1, null, 0)
].concat(trendLines.map(t => lineSet([{ x: t.from, y: t.price }, { x: t.to, y: t.price }], '#5e5e5e', 1, null, 0)));

const priceOptions = baseOptions(PRICE_TOP, H - PRICE_BOTTOM);
priceOptions.scales = {
  x: dayGrid(),
  y: rightAxis(priceRange[0], priceRange[1], priceTicks, priceTicks.map(v => v.toFixed(2)), PRICE_BOTTOM - PRICE_TOP, 6)
};
new Chart(document.getElementById('priceChart'), {
  type: 'bar',
  data: { datasets: priceDatasets },
  options: priceOptions,
  plugins: [framePlugin, priceDecor]
});

// ---- volumes ----
const volCaption = {
  id: 'volCaption',
  afterDraw(chart) {
    const { ctx, chartArea: a } = chart;
    ctx.save();
    ctx.fillStyle = AXIS_TEXT;
    ctx.font = '11px ' + FONT;
    ctx.textBaseline = 'middle';
    ctx.fillText('Volumes ' + volumes[volumes.length - 1], 9, a.top + 11);
    ctx.restore();
  }
};
const volOptions = baseOptions(VOL_TOP, H - VOL_BOTTOM);
volOptions.scales = {
  x: dayGrid(),
  y: rightAxis(0, volumeTicks[0], volumeTicks, volumeTicks.map(String), VOL_BOTTOM - VOL_TOP, 5)
};
new Chart(document.getElementById('volChart'), {
  type: 'bar',
  data: {
    datasets: [{
      data: bars.map(i => ({ x: i, y: volumes[i] })),
      backgroundColor: bars.map(i => (i === 0 || volumes[i] >= volumes[i - 1] ? '#1f6fb4' : '#a0a0a0')),
      barThickness: 3, maxBarThickness: 3, grouped: false, borderWidth: 0, inflateAmount: 0
    }]
  },
  options: volOptions,
  plugins: [framePlugin, volCaption]
});

// ---- MACD ----
const macdDecor = {
  id: 'macdDecor',
  afterDraw(chart) {
    const { ctx, chartArea: a, scales: { x } } = chart;
    ctx.save();
    ctx.fillStyle = AXIS_TEXT;
    ctx.font = '11px ' + FONT;
    ctx.textBaseline = 'middle';
    ctx.textAlign = 'left';
    ctx.fillText('MACD(12,26,9) 4.724 4.452', 9, a.top + 11);
    // session separators on the time axis
    ctx.font = '10px ' + FONT;
    ctx.textAlign = 'center';
    sessionStarts.forEach((b, k) => {
      const cx = x.getPixelForValue(b);
      const w = Math.ceil(ctx.measureText(sessionLabels[k]).width) + 4;
      ctx.fillStyle = '#c9c9c9';
      ctx.fillRect(Math.round(cx - w / 2), a.bottom + 3, w, 13);
      ctx.fillStyle = '#f6f6f6';
      ctx.fillText(sessionLabels[k], cx, a.bottom + 10);
    });
    ctx.restore();
  }
};
const macdOptions = baseOptions(MACD_TOP, 0);
macdOptions.scales = {
  x: dayGrid(),
  xt: {
    type: 'linear', position: 'bottom', min: xMin, max: xMax, offset: false,
    afterBuildTicks: s => { s.ticks = timeTickBars.map(v => ({ value: v })); },
    afterFit: s => { s.height = H - MACD_BOTTOM; },
    ticks: {
      callback: (v, i) => timeTickLabels[i], align: 'start', color: '#1d2f44',
      font: { family: FONT, size: 11 }, padding: 1, autoSkip: false, maxRotation: 0, minRotation: 0
    },
    grid: { drawOnChartArea: false, drawTicks: true, tickLength: 3, color: FRAME, offset: false },
    border: { display: false }
  },
  y: rightAxis(macdRange[0], macdRange[1], macdTicks, ['6.989', '0.00', '-9.008'], MACD_BOTTOM - MACD_TOP, 6)
};
new Chart(document.getElementById('macdChart'), {
  type: 'bar',
  data: {
    datasets: [
      {
        type: 'bar', order: 2, xAxisID: 'x',
        data: bars.map(i => ({ x: i, y: macdMain[i] })),
        backgroundColor: '#c0c0c0', barThickness: 4, maxBarThickness: 4, grouped: false, borderWidth: 0, inflateAmount: 0
      },
      Object.assign(lineSet(pts(bars, macdSignal), '#3f68d6', 1, null, 1), { xAxisID: 'x' }),
      Object.assign(lineSet(pts(macdDivergences[0].bars, macdDivergences[0].values), '#ff4a14', 2, null, 0), { xAxisID: 'x' }),
      Object.assign(lineSet(pts(macdDivergences[1].bars, macdDivergences[1].values), '#ff4a14', 2, null, 0), { xAxisID: 'x' })
    ]
  },
  options: macdOptions,
  plugins: [framePlugin, macdDecor]
});
</script>
</body>
</html>
